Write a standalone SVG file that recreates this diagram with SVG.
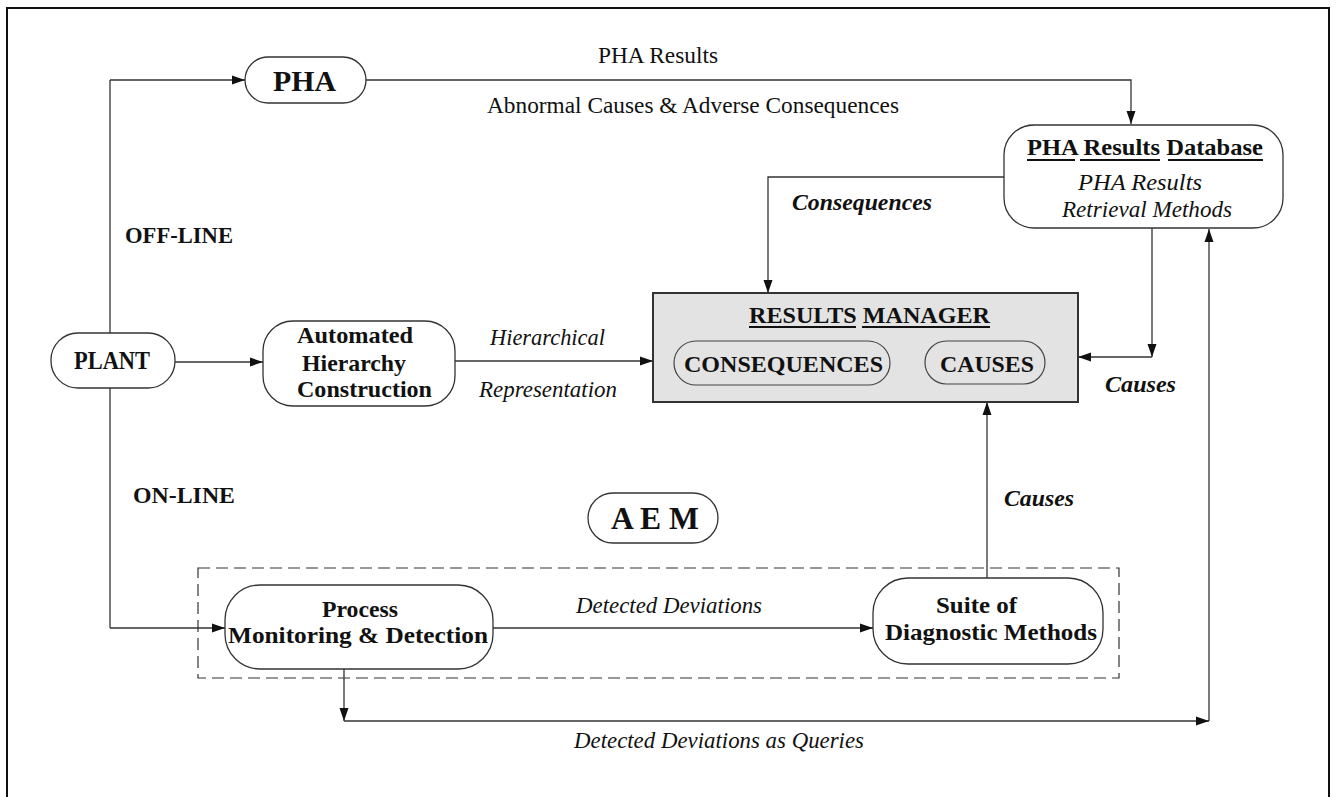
<svg xmlns="http://www.w3.org/2000/svg" width="1336" height="797" viewBox="0 0 1336 797">
  <defs>
    <marker id="arrow" markerUnits="userSpaceOnUse" markerWidth="14" markerHeight="10" refX="13" refY="5" orient="auto">
      <path d="M0,0.5 L13,5 L0,9.5 z" fill="#111"/>
    </marker>
    <style>
      text { font-family: "Liberation Serif", "Times New Roman", serif; fill: #111; }
      .b { font-weight: bold; }
      .i { font-style: italic; }
      .bi { font-weight: bold; font-style: italic; }
      .node { fill: #fff; stroke: #333; stroke-width: 1.3; }
      .wire { fill: none; stroke: #333; stroke-width: 1.3; }
      .arr { marker-end: url(#arrow); }
      .ul { stroke: #111; stroke-width: 2; }
    </style>
  </defs>

  <rect width="1336" height="797" fill="#fff"/>
  <!-- outer frame -->
  <rect x="7" y="8" width="1322" height="800" fill="none" stroke="#111" stroke-width="2"/>

  <!-- AEM boundary -->
  <rect id="aem-boundary" x="198" y="568" width="921" height="110" fill="none" stroke="#333" stroke-width="1.2" stroke-dasharray="12,6"/>

  <!-- connectors -->
  <g id="connectors">
    <path class="wire" d="M110,80 V628"/>
    <path class="wire arr" d="M110,80 H245"/>
    <path class="wire arr" d="M366,80 H1131 V124"/>
    <path class="wire arr" d="M1004,177 H768 V293"/>
    <path class="wire arr" d="M1152,228 V357"/>
    <path class="wire arr" d="M1152,357 H1078"/>
    <path class="wire arr" d="M175,362 H263"/>
    <path class="wire arr" d="M455,361 H653"/>
    <path class="wire arr" d="M110,628 H225"/>
    <path class="wire arr" d="M493,628 H873"/>
    <path class="wire arr" d="M987,578 V402"/>
    <path class="wire arr" d="M344,669 V721"/>
    <path class="wire arr" d="M344,721 H1209"/>
    <path class="wire arr" d="M1209,721 V229"/>
  </g>

  <!-- connector labels -->
  <g id="labels">
    <text x="598" y="63" font-size="23" textLength="120" lengthAdjust="spacingAndGlyphs">PHA Results</text>
    <text x="487" y="113" font-size="23" textLength="412" lengthAdjust="spacingAndGlyphs">Abnormal Causes &amp; Adverse Consequences</text>
    <text class="b" x="125" y="243" font-size="23" textLength="108" lengthAdjust="spacingAndGlyphs">OFF-LINE</text>
    <text class="b" x="133" y="503" font-size="23" textLength="102" lengthAdjust="spacingAndGlyphs">ON-LINE</text>
    <text class="i" x="490" y="345" font-size="23" textLength="115" lengthAdjust="spacingAndGlyphs">Hierarchical</text>
    <text class="i" x="479" y="397" font-size="23" textLength="138" lengthAdjust="spacingAndGlyphs">Representation</text>
    <text class="bi" x="792" y="210" font-size="24" textLength="140" lengthAdjust="spacingAndGlyphs">Consequences</text>
    <text class="bi" x="1105" y="392" font-size="24" textLength="71" lengthAdjust="spacingAndGlyphs">Causes</text>
    <text class="bi" x="1004" y="506" font-size="24" textLength="70" lengthAdjust="spacingAndGlyphs">Causes</text>
    <text class="i" x="576" y="613" font-size="23" textLength="186" lengthAdjust="spacingAndGlyphs">Detected Deviations</text>
    <text class="i" x="574" y="748" font-size="23" textLength="290" lengthAdjust="spacingAndGlyphs">Detected Deviations as Queries</text>
  </g>

  <!-- PHA -->
  <g id="pha">
    <rect class="node" x="245" y="57" width="121" height="46" rx="23"/>
    <text class="b" x="273" y="91" font-size="29" textLength="63" lengthAdjust="spacingAndGlyphs">PHA</text>
  </g>

  <!-- PLANT -->
  <g id="plant">
    <rect class="node" x="51" y="333" width="124" height="55" rx="27"/>
    <text class="b" x="74" y="369" font-size="25" textLength="76" lengthAdjust="spacingAndGlyphs">PLANT</text>
  </g>

  <!-- Automated Hierarchy Construction -->
  <g id="hierarchy">
    <rect class="node" x="263" y="321" width="192" height="85" rx="30"/>
    <text class="b" x="297" y="343" font-size="24" textLength="116" lengthAdjust="spacingAndGlyphs">Automated</text>
    <text class="b" x="302" y="371" font-size="24" textLength="104" lengthAdjust="spacingAndGlyphs">Hierarchy</text>
    <text class="b" x="297" y="397" font-size="24" textLength="135" lengthAdjust="spacingAndGlyphs">Construction</text>
  </g>

  <!-- PHA Results Database -->
  <g id="pha-db">
    <rect class="node" x="1004" y="125" width="279" height="103" rx="30"/>
    <text class="b" x="1027" y="155" font-size="23" textLength="236" lengthAdjust="spacingAndGlyphs">PHA Results Database</text>
    <line class="ul" x1="1027" y1="160" x2="1075" y2="160"/>
    <line class="ul" x1="1080" y1="160" x2="1160" y2="160"/>
    <line class="ul" x1="1168" y1="160" x2="1263" y2="160"/>
    <text class="i" x="1078" y="190" font-size="24" textLength="124" lengthAdjust="spacingAndGlyphs">PHA Results</text>
    <text class="i" x="1062" y="217" font-size="24" textLength="170" lengthAdjust="spacingAndGlyphs">Retrieval Methods</text>
  </g>

  <!-- Results Manager -->
  <g id="results-manager">
    <rect x="653" y="293" width="425" height="109" fill="#e3e3e3" stroke="#333" stroke-width="2"/>
    <text class="b" x="749" y="323" font-size="23" textLength="241" lengthAdjust="spacingAndGlyphs">RESULTS MANAGER</text>
    <line class="ul" x1="749" y1="327" x2="856" y2="327"/>
    <line class="ul" x1="862" y1="327" x2="990" y2="327"/>
    <rect x="674" y="341" width="216" height="44" rx="22" fill="none" stroke="#444" stroke-width="1.2"/>
    <text class="b" x="684" y="372" font-size="23" textLength="199" lengthAdjust="spacingAndGlyphs">CONSEQUENCES</text>
    <rect x="925" y="341" width="120" height="43" rx="21.5" fill="none" stroke="#444" stroke-width="1.2"/>
    <text class="b" x="940" y="372" font-size="23" textLength="94" lengthAdjust="spacingAndGlyphs">CAUSES</text>
  </g>

  <!-- AEM -->
  <g id="aem">
    <rect class="node" x="588" y="493" width="130" height="50" rx="25"/>
    <text class="b" x="611" y="529" font-size="31" textLength="88" lengthAdjust="spacingAndGlyphs">A E M</text>
  </g>

  <!-- Process Monitoring & Detection -->
  <g id="monitoring">
    <rect class="node" x="225" y="585" width="268" height="84" rx="35"/>
    <text class="b" x="322" y="617" font-size="24" textLength="76" lengthAdjust="spacingAndGlyphs">Process</text>
    <text class="b" x="228" y="643" font-size="24" textLength="260" lengthAdjust="spacingAndGlyphs">Monitoring &amp; Detection</text>
  </g>

  <!-- Suite of Diagnostic Methods -->
  <g id="diagnostics">
    <rect class="node" x="873" y="578" width="230" height="86" rx="35"/>
    <text class="b" x="936" y="613" font-size="24" textLength="81" lengthAdjust="spacingAndGlyphs">Suite of</text>
    <text class="b" x="885" y="640" font-size="24" textLength="212" lengthAdjust="spacingAndGlyphs">Diagnostic Methods</text>
  </g>
</svg>
